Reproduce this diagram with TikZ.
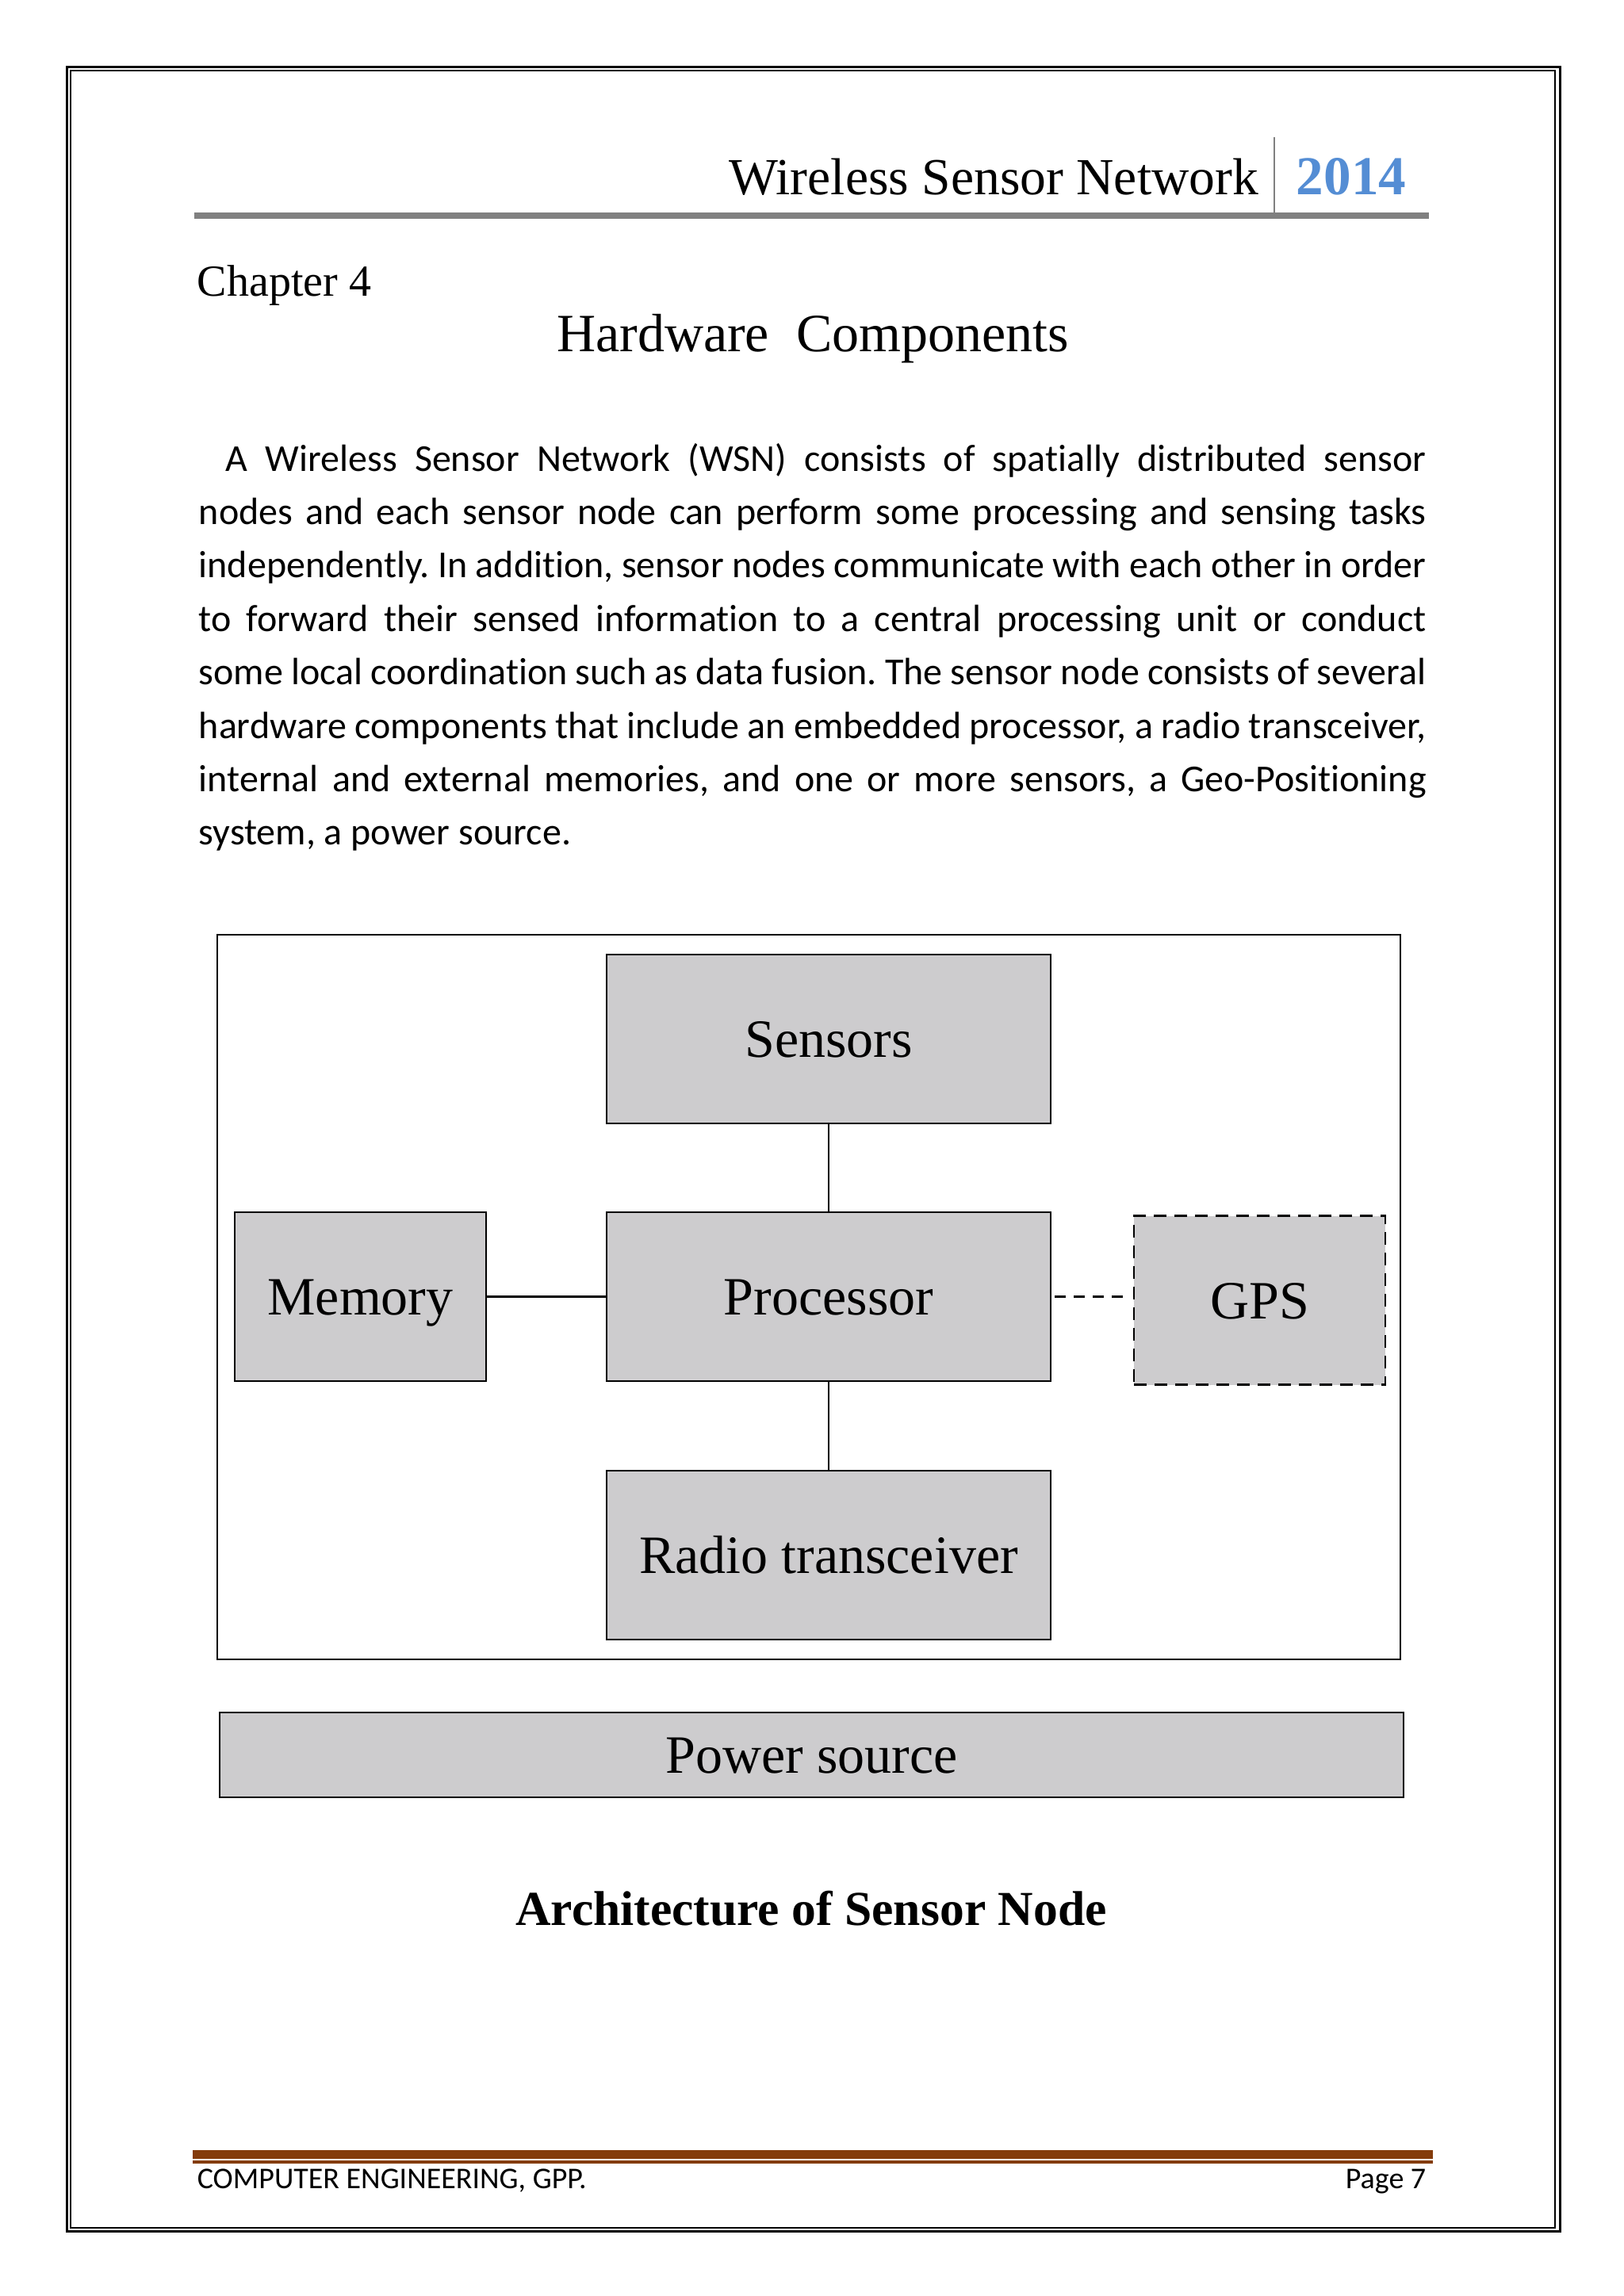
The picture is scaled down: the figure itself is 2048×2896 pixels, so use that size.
\documentclass[tikz,border=0pt]{standalone}
\usepackage{fontspec}
\setmainfont{Liberation Serif}
\newfontfamily\calibri[Ligatures=NoCommon]{Carlito}
\definecolor{boxgray}{RGB}{205,204,206}
\definecolor{yearblue}{RGB}{84,141,212}
\definecolor{rulegray}{RGB}{128,128,128}
\definecolor{footbrown}{RGB}{132,60,11}
\frenchspacing

\begin{document}
\begin{tikzpicture}[x=0.25pt,y=0.25pt,yscale=-1,xscale=1,
  blk/.style={draw, line width=0.65pt, fill=boxgray, inner sep=0pt, minimum height=53.25pt, text height=11.5pt, text depth=0pt, font=\fontsize{17}{20}\selectfont},
  body/.style={anchor=base west, inner sep=0pt, font=\calibri\fontsize{12}{14}\selectfont},
  wire/.style={line width=0.55pt}]
\useasboundingbox (0,0) rectangle (2048,2896);

%Shape: Rectangle (page border, outer)
\draw [line width=0.75pt] (84,84) rectangle (1967,2814);
%Shape: Rectangle (page border, inner)
\draw [line width=0.7pt] (89,89) rectangle (1961,2810);

%Shape: Rectangle (header bar)
\fill [rulegray] (245,268) rectangle (1802,276);
%Straight Lines
\draw [rulegray, line width=0.7pt] (1607,173) -- (1607,268);

% Text Node
\draw (1588,245) node (hdr) [anchor=base east][inner sep=0pt] [font=\fontsize{16.4}{19}\selectfont] {Wireless Sensor Network};
% Text Node
\draw (1634,245) node (year) [anchor=base west][inner sep=0pt] [font=\bfseries\fontsize{17.3}{20}\selectfont, text=yearblue] {2014};
% Text Node
\draw (248,373) node (chap) [anchor=base west][inner sep=0pt] [font=\fontsize{14}{17}\selectfont] {Chapter 4};
% Text Node
\draw (1025,443) node (title) [anchor=base][inner sep=0pt] [font=\fontsize{17}{20}\selectfont] {Hardware~~Components};

% Text Node
\draw (284,594) node (ln1) [body] {\makebox[378.5pt][s]{A Wireless Sensor Network (WSN) consists of spatially distributed sensor}};
% Text Node
\draw (250,661.4) node (ln2) [body] {\makebox[387pt][s]{nodes and each sensor node can perform some processing and sensing tasks}};
% Text Node
\draw (250,728.8) node (ln3) [body] {\makebox[387pt][s]{independently. In addition, sensor nodes communicate with each other in order}};
% Text Node
\draw (250,796.2) node (ln4) [body] {\makebox[387pt][s]{to forward their sensed information to a central processing unit or conduct}};
% Text Node
\draw (250,863.6) node (ln5) [body] {\makebox[387pt][s]{some local coordination such as data fusion. The sensor node consists of several}};
% Text Node
\draw (250,931) node (ln6) [body] {\makebox[387pt][s]{hardware components that include an embedded processor, a radio transceiver,}};
% Text Node
\draw (250,998.4) node (ln7) [body] {\makebox[387pt][s]{internal and external memories, and one or more sensors, a Geo-Positioning}};
% Text Node
\draw (250,1065.8) node (ln8) [body] {system, a power source.};

%Shape: Rectangle (diagram frame)
\draw [line width=0.6pt] (274,1179) rectangle (1766,2093);

% Blocks
\node (sens) [blk, minimum width=140pt] at (1045,1310.5) {Sensors};
\node (proc) [blk, minimum width=140pt] at (1045,1635.5) {Processor};
\node (radio) [blk, minimum width=140pt] at (1045,1961.5) {Radio transceiver};
\node (mem) [blk, minimum width=79.25pt] at (454.5,1635.5) {Memory};
\node (gps) [blk, minimum width=79.25pt, dash pattern=on 4pt off 2.5pt] at (1588.5,1640) {GPS};
\node (power) [blk, minimum width=373.25pt, minimum height=26.75pt] at (1023.5,2213.5) {Power source};

%Straight Lines
\draw [wire] (sens) -- (proc);
\draw [wire] (mem) -- (proc);
\draw [wire] (proc) -- (radio);
\draw [wire, dash pattern=on 3.5pt off 2.5pt, shorten <=1pt, shorten >=2.5pt] (proc.east) -- (proc.east -| gps.west);

% Text Node
\draw (1023,2428) node (caption) [anchor=base][inner sep=0pt] [font=\bfseries\fontsize{15.4}{18}\selectfont] {Architecture of Sensor Node};

%Shape: Rectangle (footer bars)
\fill [footbrown] (243,2712) rectangle (1807,2723);
\fill [footbrown] (243,2725) rectangle (1807,2729);

% Text Node
\draw (248,2760) node (footl) [anchor=base west][inner sep=0pt] [font=\calibri\fontsize{9.5}{11}\selectfont] {COMPUTER ENGINEERING, GPP.};
% Text Node
\draw (1799,2760) node (footr) [anchor=base east][inner sep=0pt] [font=\calibri\fontsize{9.5}{11}\selectfont] {Page 7};
\end{tikzpicture}
\end{document}
